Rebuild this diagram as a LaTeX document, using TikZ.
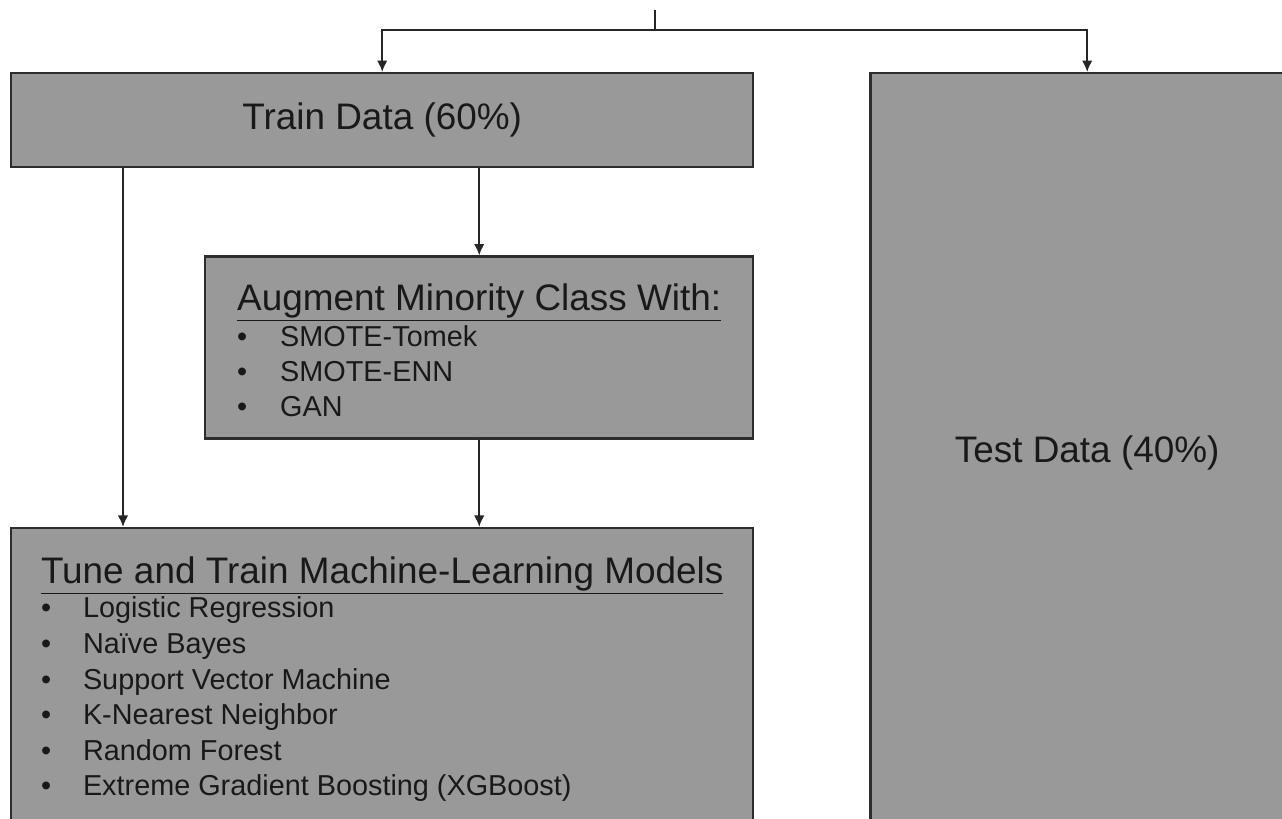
\documentclass[tikz,border=0pt]{standalone}
\usepackage{fontspec}
\setmainfont{Liberation Sans}
\usetikzlibrary{arrows.meta, positioning}

\definecolor{boxgray}{RGB}{153,153,153}
\definecolor{edgegray}{RGB}{45,45,45}

\newcommand{\bigtext}{\fontsize{21}{25}\selectfont}
\newcommand{\smalltext}{\fontsize{16.4}{19.8}\selectfont}

\begin{document}
\begin{tikzpicture}[
        box/.style={rectangle, draw=edgegray, fill=boxgray, line width=1.4pt, inner sep=0pt, text=black!90},
        link/.style={draw, -{Latex[length=6.5pt, width=6pt]}, line width=1.1pt, black!85}
    ]
        \clip (0,0) rectangle (25.64,-16.38);

        % Boxes
        \node [box, anchor=north west, minimum width=14.84cm, minimum height=1.88cm] (train) at (0.2,-1.44) {\bigtext Train Data (60\%)};
        \node [box, below right=0cm and 2.3cm of train.north east, minimum width=8.66cm, minimum height=15.2cm] (test) {\bigtext Test Data (40\%)};
        \node [box, below left=1.74cm and 0cm of train.south east, minimum width=10.96cm, minimum height=3.64cm] (augment) {%
            \smalltext
            \begin{tabular}{@{}p{0.86cm}@{}l@{}}
                \multicolumn{2}{@{}c@{}}{\rule{0pt}{23.7pt}\bigtext\underline{Augment Minority Class With:}}\\[0.7pt]
                \textbullet & SMOTE-Tomek\\
                \textbullet & SMOTE-ENN\\
                \textbullet & GAN
            \end{tabular}};
        \node [box, below left=1.74cm and 0cm of augment.south east, minimum width=14.84cm, minimum height=5.9cm] (models) {%
            \fontsize{16.4}{20.25}\selectfont
            \begin{tabular}{@{}p{0.84cm}@{}l@{}}
                \multicolumn{2}{@{}c@{}}{\rule{0pt}{22pt}\bigtext\underline{Tune and Train Machine-Learning Models}}\\[-1pt]
                \textbullet & Logistic Regression\\
                \textbullet & Naïve Bayes\\
                \textbullet & Support Vector Machine\\
                \textbullet & K-Nearest Neighbor\\
                \textbullet & Random Forest\\
                \textbullet & Extreme Gradient Boosting (XGBoost)
            \end{tabular}};

        % Split at the top
        \coordinate (source) at (13.1,-0.2);
        \coordinate (split) at (13.1,-0.6);
        \draw [line width=1.1pt, black!85] (source) -- (split);
        \path [link] (split) -| (train.north);
        \path [link] (split) -| (test.north);

        % Edges
        \path [link] (train.south -| augment.north) -- (augment.north);
        \path [link] (augment) -- (augment.south |- models.north);
        \path [link] (train.south -| 2.46,0) -- (models.north -| 2.46,0);
    \end{tikzpicture}
\end{document}
